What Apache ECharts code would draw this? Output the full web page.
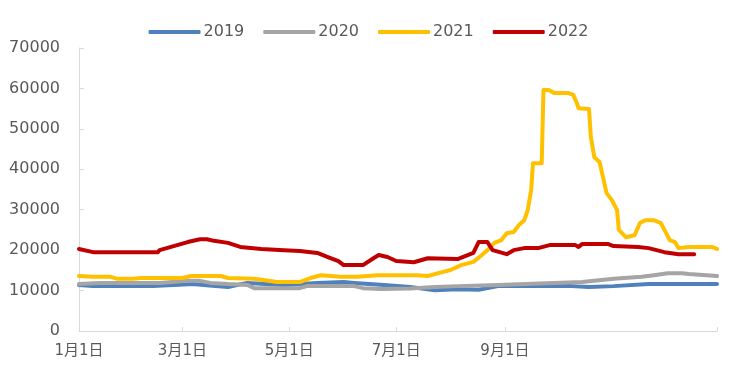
<!DOCTYPE html>
<html><head><meta charset="utf-8">
<script src="https://cdn.jsdelivr.net/npm/echarts@6/dist/echarts.min.js"></script>
<style>html,body{margin:0;padding:0;background:#fff}#c{width:737px;height:369px}</style>
</head><body><div id="c"></div>
<script>
// Day-of-year index (0 = 1月1日) and values for each series
const days2019 = [0,8,42,54,65,71,85,96,117,136,151,157,174,189,203,216,228,239,281,291,305,325,364];
const vals2019 = [11400,11100,11100,11400,11600,11400,10900,11900,11400,11900,12100,11900,11400,10900,10100,10300,10200,11100,11100,10900,11100,11600,11600];

const days2020 = [0,12,46,62,69,75,85,96,100,126,130,157,162,172,189,203,216,239,271,287,305,321,328,336,344,348,364];
const vals2020 = [11600,11900,11900,12400,12400,11900,11600,11400,10600,10600,11100,11100,10600,10400,10500,10900,11100,11400,11900,12100,12900,13400,13800,14300,14300,14100,13600];

const days2021 = [0,8,18,22,31,35,59,64,81,85,100,113,126,132,138,144,149,159,170,193,199,205,212,218,225,229,233,237,241,244,248,251,254,256,258,259,264,265,268,271,279,282,284,285,291,292,294,297,301,304,307,308,312,317,320,323,328,332,334,337,340,342,348,361,364];
const vals2021 = [13600,13400,13400,12900,12900,13100,13100,13600,13600,13100,12900,12100,12100,13100,13800,13600,13400,13400,13800,13800,13600,14300,15100,16300,17100,18500,20000,21800,22500,24200,24500,26200,27400,29900,34900,41500,41500,59600,59600,58900,58900,58400,56400,55100,54900,48000,43000,41800,34100,32400,29900,25000,23200,23700,26700,27400,27400,26700,25000,22500,22000,20500,20800,20800,20300];

const days2022 = [0,8,45,46,54,62,69,73,77,85,92,104,117,126,136,142,148,151,162,168,171,176,181,191,199,216,225,228,233,236,244,248,254,262,269,283,285,287,302,305,319,325,334,342,351];
const vals2022 = [20300,19500,19500,20000,21000,22000,22700,22700,22300,21800,20800,20300,20000,19800,19300,18300,17300,16300,16300,18000,18800,18300,17300,17000,18000,17800,19300,22000,22000,20000,19000,20000,20500,20500,21300,21300,20800,21500,21500,21000,20800,20500,19500,19000,19000];

const seriesNames = ['2019','2020','2021','2022'];
const seriesColors = ['#4F81BD','#A5A5A5','#FFC000','#C00000'];

// Calendar categories (non-leap year)
const monthLengths = [31,28,31,30,31,30,31,31,30,31,30,31];
const categories = [];
const catMonth = [], catDay = [];
monthLengths.forEach((n, m) => { for (let d = 1; d <= n; d++) { categories.push((m+1)+'月'+d+'日'); catMonth.push(m+1); catDay.push(d); } });
const isLabel = i => catDay[i] === 1 && catMonth[i] % 2 === 1;

const pairs = (ds, vs) => ds.map((d, i) => [d, vs[i]]);
const allData = [pairs(days2019, vals2019), pairs(days2020, vals2020), pairs(days2021, vals2021), pairs(days2022, vals2022)];

const FONT = "'DejaVu Sans','Noto Sans CJK SC',sans-serif";
const chart = echarts.init(document.getElementById('c'), null, {renderer: 'canvas'});
chart.setOption({
  animation: false,
  backgroundColor: '#fff',
  grid: {left: 79, right: 20, top: 48, bottom: 38, containLabel: false},
  legend: {
    top: 19, left: 'center', itemWidth: 52, itemHeight: 4, itemGap: 19, icon: 'roundRect',
    textStyle: {color: '#595959', fontSize: 16, fontFamily: FONT, padding: [0,0,0,-2]},
    data: seriesNames
  },
  xAxis: {
    type: 'category', data: categories, boundaryGap: false,
    axisLine: {lineStyle: {color: '#D9D9D9', width: 1}},
    axisTick: {inside: true, length: 4, lineStyle: {color: '#D9D9D9'}, interval: (i) => isLabel(i) || i === categories.length - 1},
    axisLabel: {interval: (i) => isLabel(i), color: '#595959', fontSize: 15, fontFamily: FONT, margin: 13, showMaxLabel: false},
    splitLine: {show: false}
  },
  yAxis: {
    type: 'value', min: 0, max: 70000, interval: 10000,
    axisLine: {show: true, lineStyle: {color: '#D9D9D9', width: 1}},
    axisTick: {show: true, inside: true, length: 5, lineStyle: {color: '#D9D9D9'}},
    axisLabel: {color: '#595959', fontSize: 16, fontFamily: FONT, margin: 19, formatter: (v) => String(v)},
    splitLine: {show: false}
  },
  series: seriesNames.map((n, k) => ({
    name: n, type: 'line', data: allData[k], showSymbol: false, symbol: 'none',
    color: seriesColors[k],
    lineStyle: {color: seriesColors[k], width: 4, cap: 'round', join: 'round'},
    z: 2 + k
  }))
});
</script></body></html>
